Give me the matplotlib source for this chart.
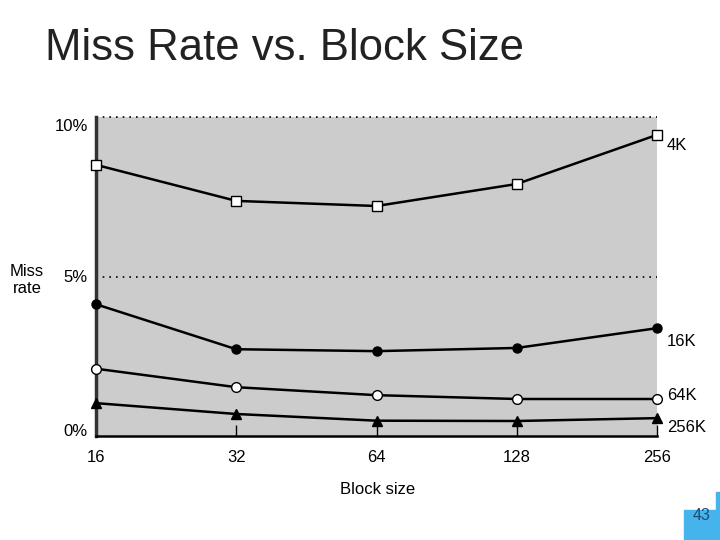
import matplotlib
matplotlib.use('Agg')
import matplotlib.pyplot as plt
import matplotlib.transforms as mtransforms
from matplotlib.patches import Rectangle

plt.rcParams['font.family'] = ['Liberation Sans', 'DejaVu Sans']

# block sizes (bytes) and miss rate (%) per cache size
block_size = [16, 32, 64, 128, 256]
block_labels = ['16', '32', '64', '128', '256']
miss_4k = [8.5, 7.37, 7.21, 7.9, 9.44]
miss_16k = [4.13, 2.72, 2.66, 2.76, 3.38]
miss_64k = [2.11, 1.53, 1.28, 1.16, 1.16]
miss_256k = [1.03, 0.69, 0.48, 0.47, 0.56]
cache_names = ['4K', '16K', '64K', '256K']
ytick_vals = [0, 5, 10]
ytick_labels = ['0%', '5%', '10%']

fig = plt.figure(figsize=(7.2, 5.4), dpi=100)
fig.text(45/720, 1-48/540, 'Miss Rate vs. Block Size', fontsize=31.5,
         color='#222222', ha='left', va='center')

ax = fig.add_axes([96/720, 1-436/540, (657-96)/720, (436-117)/540])
ax.set_facecolor('#cccccc')
ax.set_xscale('log', base=2)
ax.set_xlim(16, 256)
ax.set_ylim(0, 10)

series = [miss_4k, miss_16k, miss_64k, miss_256k]
styles = [dict(marker='s', mfc='white', ms=7.5),
          dict(marker='o', mfc='black', ms=6.5),
          dict(marker='o', mfc='white', ms=7),
          dict(marker='^', mfc='black', ms=7.5)]
for vals, st in zip(series, styles):
    ax.plot(block_size, vals, color='black', lw=1.8, mec='black', mew=1,
            clip_on=False, zorder=3, **st)

# dotted guides at 5% and 10%
ax.axhline(5, color='black', ls=(0, (1, 3)), lw=1.2)
ax.axhline(10, color='black', ls=(0, (1, 3)), lw=1.2, clip_on=False)

for side in ['top', 'right']:
    ax.spines[side].set_visible(False)
ax.spines['left'].set_linewidth(2.5)
ax.spines['left'].set_color('#333333')
ax.spines['bottom'].set_linewidth(1.8)

ax.set_xticks(block_size)
ax.set_xticklabels(block_labels)
ax.xaxis.set_minor_locator(matplotlib.ticker.NullLocator())
ax.tick_params(axis='x', direction='in', length=8, width=1, pad=10,
               labelsize=12)
ax.set_yticks(ytick_vals)
ax.set_yticklabels(ytick_labels)
ax.tick_params(axis='y', length=0, pad=6, labelsize=12)
for lab, dy in zip(ax.get_yticklabels(), [6, 0, -8]):
    lab.set_transform(lab.get_transform() +
                      mtransforms.ScaledTranslation(0, dy/100, fig.dpi_scale_trans))

# end-of-line labels
label_y = [145, 341, 395, 427]
for name, yp in zip(cache_names, label_y):
    fig.text(667/720, 1-yp/540, name, fontsize=12, ha='left', va='center')

fig.text(378/720, 1-489/540, 'Block size', fontsize=12, ha='center', va='center')
fig.text(27/720, 1-280/540, 'Miss\nrate', fontsize=12, ha='center', va='center',
         linespacing=1.1)

# slide page number box
fig.patches.append(Rectangle((684/720, 0), 36/720, 30/540, transform=fig.transFigure,
                             color='#45b4ec', zorder=0))
fig.patches.append(Rectangle((716/720, 30/540), 4/720, 18/540, transform=fig.transFigure,
                             color='#45b4ec', zorder=0))
fig.text(702/720, 1-516/540, '43', fontsize=11.5, color='#1f4a70', ha='center', va='center')

fig.savefig('out.png', dpi=100)
